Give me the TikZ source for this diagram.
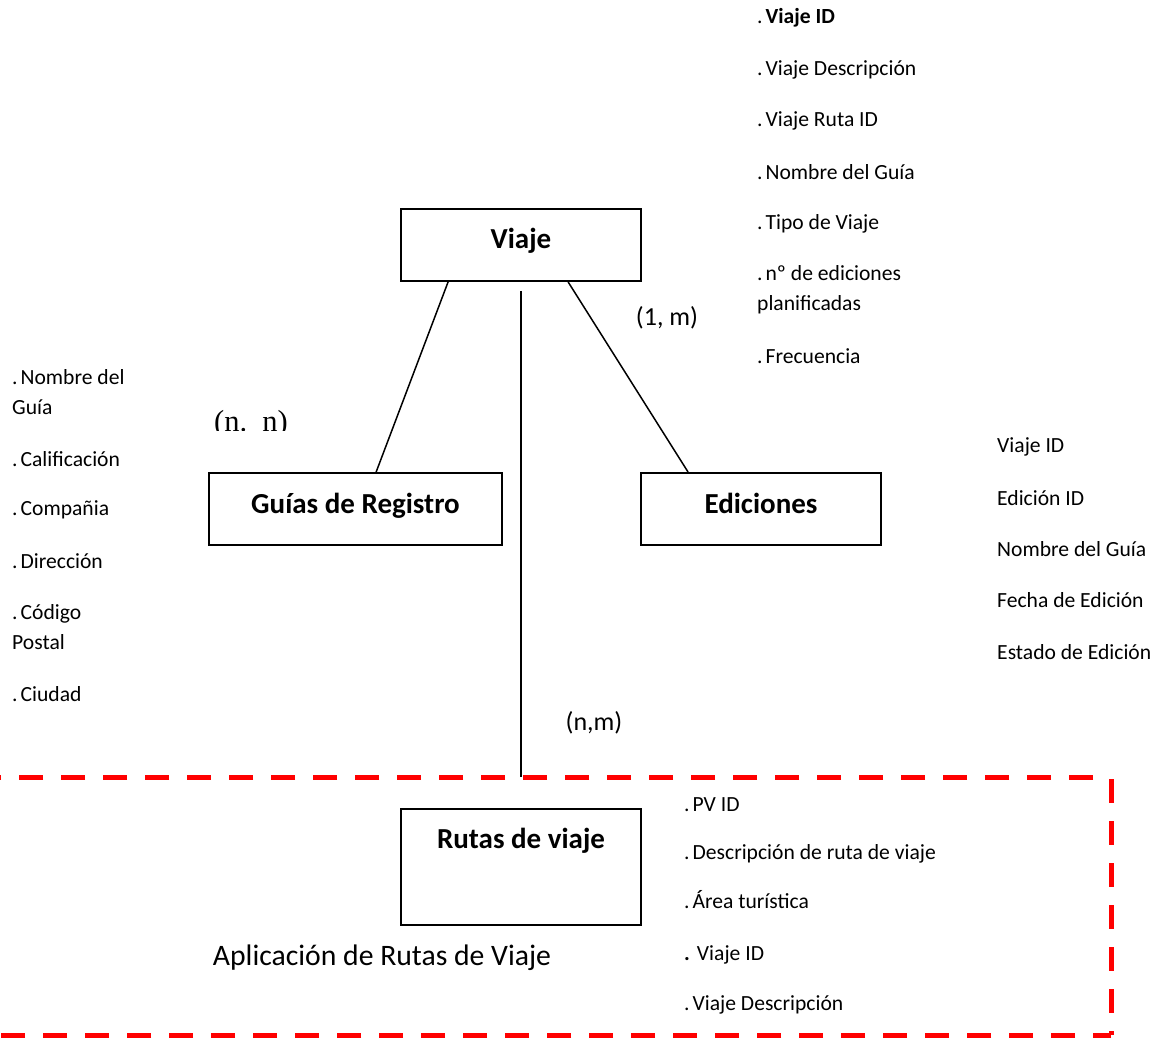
\documentclass[tikz,border=0pt]{standalone}
\usepackage{fontspec}
\setmainfont{Carlito}
\newfontfamily\serifnn{Liberation Serif}
\newcommand{\dotlead}{.\hspace{3pt}}
\begin{document}
\begin{tikzpicture}[x=1pt,y=-1pt,
  entity/.style={draw,line width=1.8pt,minimum width=240pt,minimum height=72pt,inner sep=0pt,font=\fontsize{29}{34}\selectfont\bfseries},
  attr/.style={anchor=west,inner sep=0pt,align=left,font=\fontsize{21.6}{30}\selectfont},
  card/.style={inner sep=0pt,font=\fontsize{26}{30}\selectfont},
  conn/.style={line width=1.5pt},
  reddash/.style={draw=red,line width=5pt,dash pattern=on 24pt off 18pt}]
\useasboundingbox (0,0) rectangle (1170,1037);

% entities
\node[entity] (viaje) at (521,245) {\raisebox{13pt}{Viaje}};
\node[entity,minimum width=293pt] (guias) at (355.5,509) {\raisebox{11pt}{Guías de Registro}};
\node[entity] (ediciones) at (761,509) {\raisebox{11pt}{Ediciones}};
\node[entity,minimum height=116pt,label={[anchor=north,yshift=-17pt,font=\fontsize{29}{34}\selectfont\bfseries]north:Rutas de viaje}] (rutas) at (521,867) {};

% connectors
\coordinate (dtop) at (521,777);
\draw[conn] ([xshift=48pt]viaje.south west) -- ([xshift=168pt]guias.north west);
\draw[conn] ([xshift=168pt]viaje.south west) -- ([xshift=48pt]ediciones.north west);
\draw[conn] ([yshift=-9pt]viaje.south) -- (dtop);

% cardinalities
\node[card] (c1m) at (667,318) {(1, m)};
\node[card] (cnm) at (594,723) {(n,m)};
\begin{scope}
\clip (190,395) rectangle (310,430);
\node[anchor=base,inner sep=0pt,font=\serifnn\fontsize{30.5}{34}\selectfont] (cnn) at (251,431) {(n.\ \ n)};
\end{scope}

% Viaje attributes
\node[attr] (v1) at (757,18) {\dotlead\textbf{Viaje ID}};
\node[attr] (v2) at (757,70) {\dotlead Viaje Descripción};
\node[attr] (v3) at (757,121) {\dotlead Viaje Ruta ID};
\node[attr] (v4) at (757,172) {\dotlead Nombre del Guía};
\node[attr] (v5) at (757,224) {\dotlead Tipo de Viaje};
\node[attr] (v6) at (757,290) {\dotlead nº de ediciones\\planificadas};
\node[attr] (v7) at (757,356) {\dotlead Frecuencia};

% Guias attributes
\node[attr] (g1) at (12,392) {\dotlead Nombre del\\Guía};
\node[attr] (g2) at (12,459) {\dotlead Calificación};
\node[attr] (g3) at (12,510) {\dotlead Compañia};
\node[attr] (g4) at (12,561) {\dotlead Dirección};
\node[attr] (g5) at (12,627) {\dotlead Código\\Postal};
\node[attr] (g6) at (12,694) {\dotlead Ciudad};

% Ediciones attributes
\node[attr] (e1) at (997,447) {Viaje ID};
\node[attr] (e2) at (997,498) {Edición ID};
\node[attr] (e3) at (997,549) {Nombre del Guía};
\node[attr] (e4) at (997,600) {Fecha de Edición};
\node[attr] (e5) at (997,652) {Estado de Edición};

% Rutas attributes
\node[attr] (r1) at (684,805) {\dotlead PV ID};
\node[attr] (r2) at (684,854) {\dotlead Descripción de ruta de viaje};
\node[attr] (r3) at (684,900) {\dotlead Área turística};
\node[attr] (r4) at (684,955) {\textbf{.}\hspace{7pt}Viaje ID};
\node[attr] (r5) at (684,1005) {\dotlead Viaje Descripción};

\node[inner sep=0pt,font=\fontsize{29.7}{34}\selectfont] (app) at (382,958) {Aplicación de Rutas de Viaje};

% dashed boundary
\coordinate (bBR) at (1111,1035);
\draw[reddash] (1093,777) -- (-30,777);
\draw[reddash] (1111,779) -- (bBR);
\draw[reddash,dash phase=6pt] (bBR) -- (-30,1035);
\end{tikzpicture}
\end{document}
